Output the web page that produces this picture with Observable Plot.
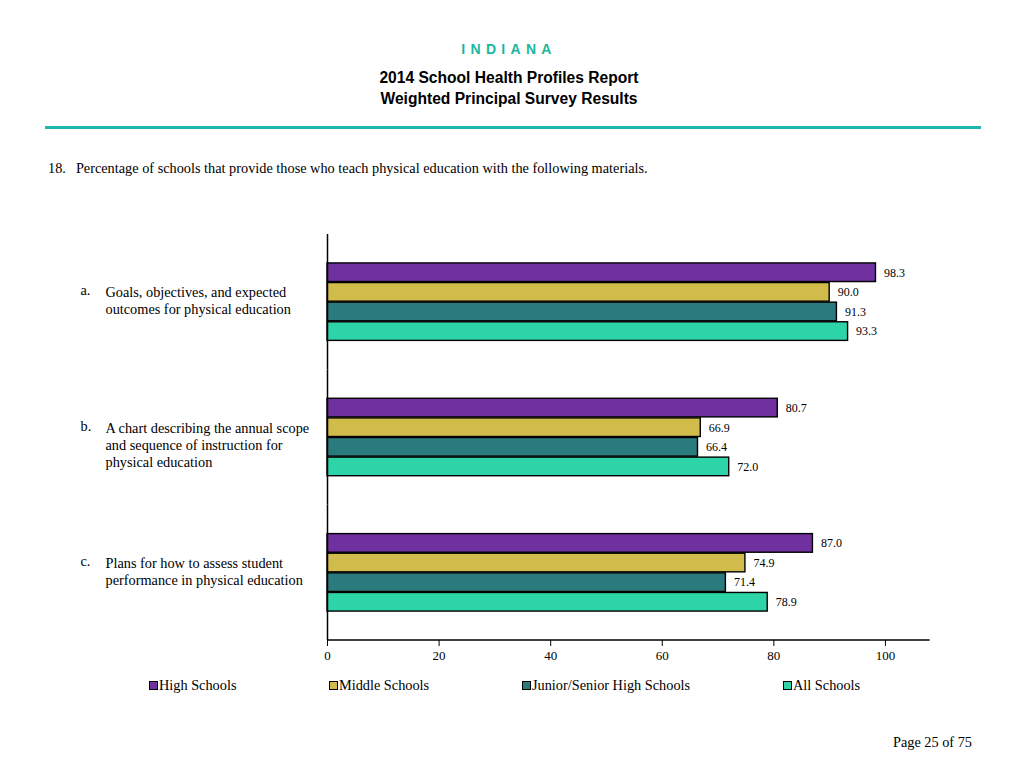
<!DOCTYPE html>
<html>
<head>
<meta charset="utf-8">
<script src="https://cdn.jsdelivr.net/npm/d3@7"></script>
<script src="https://cdn.jsdelivr.net/npm/@observablehq/plot@0.6"></script>
<style>
  html, body { margin: 0; padding: 0; background: #fff; }
  #page { position: relative; width: 1024px; height: 768px; overflow: hidden; }
  .abs { position: absolute; }
  .state { left: 0; width: 1018px; top: 41px; text-align: center; font-family: "Liberation Sans", Arial, sans-serif; font-weight: bold; font-size: 14px; letter-spacing: 5.3px; color: #1db5a0; }
  .title { left: 0; width: 1018px; text-align: center; font-family: "Liberation Sans", Arial, sans-serif; font-weight: bold; font-size: 15.6px; color: #000; }
  .rule { left: 45px; width: 936px; top: 126px; height: 3px; background: #20b5ad; }
  .serif { font-family: "Liberation Serif", "Times New Roman", serif; font-size: 14.3px; color: #000; }
  .legend-item { display: flex; align-items: center; white-space: nowrap; }
  .swatch { display: inline-block; width: 7px; height: 7px; border: 1.3px solid #000; margin-right: 1px; }
  #chart { left: 0; top: 200px; }
</style>
</head>
<body>
<div id="page">
  <div class="abs state">INDIANA</div>
  <div class="abs title" style="top:69px">2014 School Health Profiles Report</div>
  <div class="abs title" style="top:90px">Weighted Principal Survey Results</div>
  <div class="abs rule"></div>
  <div class="abs serif" style="left:48px; top:160px">18.<span style="display:inline-block;width:10px"></span>Percentage of schools that provide those who teach physical education with the following materials.</div>
  <div class="abs" id="chart"></div>
  <div class="abs" id="legend" style="top:677px; left:0; width:1024px; height:18px"></div>
  <div class="abs serif" style="right:52px; top:734px">Page 25 of 75</div>
</div>
<script>
// ---- data ----
const items = ["a", "b", "c"];
const itemLetters = ["a.", "b.", "c."];
const itemLabels = [
  "Goals, objectives, and expected\noutcomes for physical education",
  "A chart describing the annual scope\nand sequence of instruction for\nphysical education",
  "Plans for how to assess student\nperformance in physical education"
];
const series = ["High Schools", "Middle Schools", "Junior/Senior High Schools", "All Schools"];
const highSchools = [98.3, 80.7, 87.0];
const middleSchools = [90.0, 66.9, 74.9];
const juniorSenior = [91.3, 66.4, 71.4];
const allSchools = [93.3, 72.0, 78.9];
const xTicks = [0, 20, 40, 60, 80, 100];

// ---- styles ----
const colors = ["#7030a0", "#d1bc4b", "#2a7b7d", "#2dd4a8"];
const legendLeft = [149, 329, 522, 783];

const seriesValues = [highSchools, middleSchools, juniorSenior, allSchools];
const rows = [];
items.forEach((it, i) => {
  series.forEach((s, j) => rows.push({item: it, series: s, value: seriesValues[j][i]}));
});
const labelRows = items.map((it, i) => ({item: it, letter: itemLetters[i], label: itemLabels[i]}));

const W = 1024, H = 480, MT = 34, MB = 40, ML = 327, MR = 94.4;

const chart = Plot.plot({
  width: W,
  height: H,
  marginTop: MT,
  marginBottom: MB,
  marginLeft: ML,
  marginRight: MR,
  style: {fontFamily: "'Liberation Serif', 'Times New Roman', serif", fontSize: "13px", color: "#000", background: "transparent", overflow: "visible"},
  x: {domain: [0, 108], ticks: xTicks, tickSize: 6, tickPadding: 4, label: null, tickFormat: d => String(d)},
  y: {domain: series, paddingInner: 0, paddingOuter: 1.45, round: false, axis: null},
  fy: {domain: items, padding: 0, round: false, axis: null},
  color: {domain: series, range: colors},
  marks: [
    Plot.barX(rows, {x: "value", y: "series", fy: "item", fill: "series", stroke: "#000", strokeWidth: 1.4, insetTop: 0.5, insetBottom: 0.5}),
    Plot.text(rows, {x: "value", y: "series", fy: "item", text: d => d.value.toFixed(1), dx: 8, textAnchor: "start", fontSize: 12, fill: "#000"}),
    Plot.ruleX([0], {stroke: "#000", strokeWidth: 1.5}),
    Plot.text(labelRows, {fy: "item", text: "letter", frameAnchor: "left", textAnchor: "start", lineAnchor: "top", dx: -247, dy: -17, fontSize: 14.3, fill: "#000"}),
    Plot.text(labelRows, {fy: "item", text: "label", frameAnchor: "left", textAnchor: "start", lineAnchor: "top", lineHeight: 1.2, dx: -222, dy: -17, fontSize: 14.3, fill: "#000"})
  ]
});

// bottom axis line from the x scale's range
const xr = chart.scale("x").range;
d3.select(chart).append("line")
  .attr("x1", xr[0]).attr("x2", xr[1])
  .attr("y1", H - MB).attr("y2", H - MB)
  .attr("stroke", "#000").attr("stroke-width", 1.5);

document.getElementById("chart").appendChild(chart);

// legend
const legend = document.getElementById("legend");
series.forEach((s, i) => {
  const el = document.createElement("div");
  el.className = "abs serif legend-item";
  el.style.left = legendLeft[i] + "px";
  el.style.top = "0px";
  const sw = document.createElement("span");
  sw.className = "swatch";
  sw.style.background = colors[i];
  el.appendChild(sw);
  el.appendChild(document.createTextNode(s));
  legend.appendChild(el);
});
</script>
</body>
</html>
